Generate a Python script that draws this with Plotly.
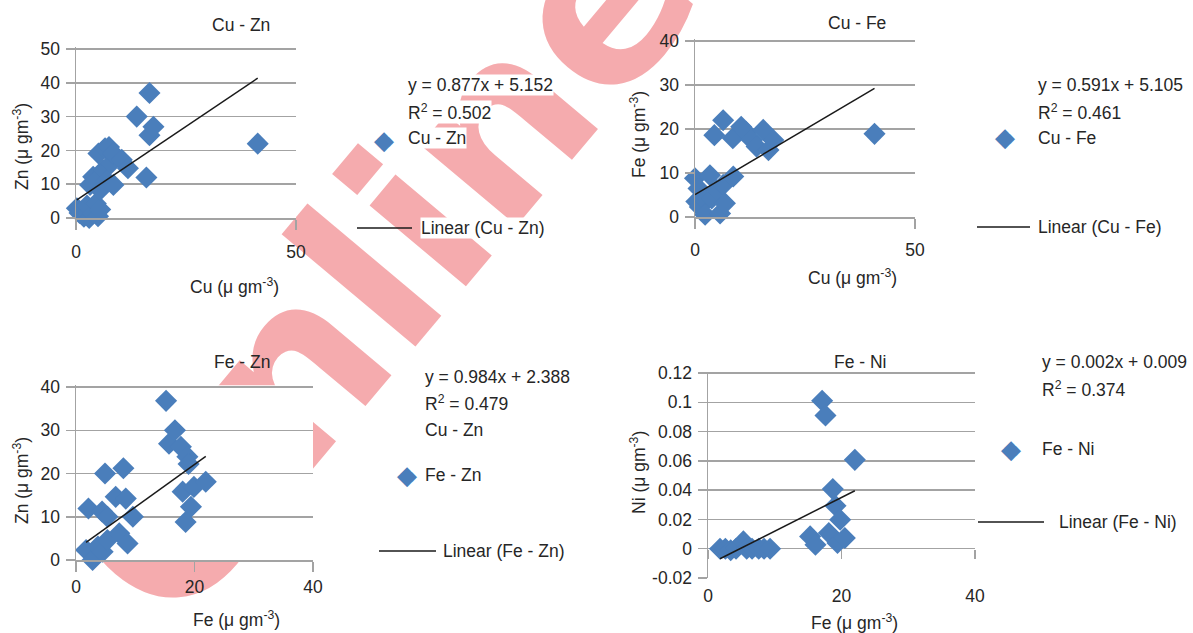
import base64
import plotly.graph_objects as go

# ---------------- data ----------------
# Panel 1: Cu - Zn
cu_a = [0.2, 0.8, 1.8, 2.5, 3.0, 3.9, 4.5, 5.0, 5.5, 3.2, 3.9, 4.5, 5.5, 6.2, 7.0, 8.5,
        5.1, 6.6, 7.5, 8.0, 8.5, 10.4, 11.8, 13.8, 16.0, 16.7, 17.6, 16.7, 41.3]
zn_a = [2.9, 1.5, 0.4, 3.7, 0.0, 1.4, 4.3, 0.5, 2.5, 9.8, 12.2, 11.0, 8.3, 14.2, 11.0, 9.8,
        19.1, 20.6, 21.0, 16.2, 19.1, 17.2, 14.7, 30.0, 12.0, 24.5, 27.0, 37.0, 22.0]
# Panel 2: Cu - Fe
cu_b = [0.0, 0.3, 0.8, 1.1, 1.5, 2.3, 3.4, 3.8, 4.9, 5.7, 6.4, 6.8, 8.7,
        4.4, 6.4, 8.6, 10.5, 11.6, 12.9, 14.0, 15.5, 16.7, 17.8, 40.8]
fe_b = [8.8, 3.5, 6.5, 2.3, 4.6, 0.5, 9.5, 4.2, 6.1, 0.8, 7.3, 3.1, 9.2,
        18.6, 22.0, 17.9, 20.5, 19.3, 17.5, 16.0, 19.8, 15.2, 17.5, 18.9]
# Panel 3: Fe - Zn
fe_c = [1.7, 2.1, 2.8, 3.7, 4.4, 4.5, 4.9, 5.3, 5.3, 6.7, 7.3, 8.0, 8.4, 8.7, 9.6,
        15.2, 15.7, 16.7, 17.7, 18.8, 19.0, 18.0, 19.9, 21.9, 19.4, 18.5]
zn_c = [2.3, 11.9, 0.0, 3.1, 11.2, 1.9, 20.0, 10.0, 4.6, 14.6, 6.2, 21.2, 14.2, 3.8, 10.0,
        36.8, 26.9, 30.0, 26.2, 23.9, 22.2, 15.8, 16.9, 18.1, 12.3, 8.8]
# Panel 4: Fe - Ni
fe_d = [1.8, 2.6, 3.4, 4.2, 5.3, 5.8, 6.6, 7.6, 8.4, 9.3, 15.3, 16.1, 17.1, 17.6, 18.1,
        18.7, 19.1, 19.4, 19.8, 20.5, 22.0]
ni_d = [0.0, 0.0, -0.001, 0.0, 0.005, 0.0, 0.0, 0.0, 0.0, 0.0, 0.0084, 0.0027, 0.101, 0.091,
        0.0107, 0.0407, 0.0293, 0.0039, 0.0198, 0.0073, 0.0607]

series_names = ["Cu - Zn", "Cu - Fe", "Fe - Zn", "Fe - Ni"]
panel_titles = ["Cu - Zn", "Cu - Fe", "Fe - Zn", "Fe - Ni"]
x_titles = ["Cu (\u03bc gm<sup>-3</sup>)", "Cu (\u03bc gm<sup>-3</sup>)",
            "Fe (\u03bc gm<sup>-3</sup>)", "Fe (\u03bc gm<sup>-3</sup>)"]
y_titles = ["Zn (\u03bc gm<sup>-3</sup>)", "Fe (\u03bc gm<sup>-3</sup>)",
            "Zn (\u03bc gm<sup>-3</sup>)", "Ni (\u03bc gm<sup>-3</sup>)"]
equations = ["y = 0.877x + 5.152", "y = 0.591x + 5.105", "y = 0.984x + 2.388", "y = 0.002x + 0.009"]
r_squared = ["0.502", "0.461", "0.479", "0.374"]
extra_label = [None, None, "Cu - Zn", None]
trend_slope = [0.877, 0.591, 0.984, 0.0023]
trend_intercept = [5.152, 5.105, 2.388, -0.011]
x_tickvals = [[0, 50], [0, 50], [0, 20, 40], [0, 20, 40]]
y_tickvals = [[0, 10, 20, 30, 40, 50], [0, 10, 20, 30, 40], [0, 10, 20, 30, 40],
              [-0.02, 0, 0.02, 0.04, 0.06, 0.08, 0.1, 0.12]]
y_ticktext = [None, None, None, ["-0.02", "0", "0.02", "0.04", "0.06", "0.08", "0.1", "0.12"]]
watermark_text = "Online"

xs = [cu_a, cu_b, fe_c, fe_d]
ys = [zn_a, fe_b, zn_c, ni_d]

# ---------------- styling / geometry ----------------
W, H = 1193, 633
GRID = "#a3a3a3"
TXT = "#262626"
BLUE = "#4a7ebb"
PINK = "#f5abae"
FONT = "Liberation Sans, Arial, sans-serif"
FS = 17.5


def fx(p):
    return p / W


def fy(p):
    return 1 - p / H


geom = [
    dict(x0=76, x1=296, xr=[0, 50], v=(0, 50), p=(218, 49), yr=[0, 50.5], xso=7),
    dict(x0=695, x1=915, xr=[0, 50], v=(0, 40), p=(217, 41), yr=[0, 40.4], xso=6),
    dict(x0=76, x1=313, xr=[0, 40], v=(0, 40), p=(560, 387), yr=[0, 40.4], xso=0),
    dict(x0=708, x1=975, xr=[0, 40], v=(-0.02, 0.12), p=(578, 373), yr=[-0.02, 0.1208], xso=5),
]

fig = go.Figure()
layout = dict(
    width=W, height=H, autosize=False,
    margin=dict(l=0, r=0, t=0, b=0, autoexpand=False),
    paper_bgcolor="white", plot_bgcolor="white",
    showlegend=False,
    font=dict(family=FONT, size=FS, color=TXT),
)

tickfont = dict(family=FONT, size=FS, color=TXT)
shapes = []

for i in range(4):
    n = i + 2
    g = geom[i]
    ppu = (g["p"][0] - g["p"][1]) / (g["v"][1] - g["v"][0])
    dom_bot = g["p"][0] + (g["v"][0] - g["yr"][0]) * ppu
    dom_top = g["p"][0] - (g["yr"][1] - g["v"][0]) * ppu
    xa = dict(domain=[fx(g["x0"]), fx(g["x1"])], range=g["xr"], anchor="y%d" % n,
              tickvals=x_tickvals[i], showgrid=False, zeroline=False, automargin=False,
              tickfont=tickfont, ticklabelstandoff=g["xso"], fixedrange=True)
    if i < 3:
        xa.update(showline=True, linecolor=GRID, linewidth=1.5,
                  ticks="outside", ticklen=10, tickwidth=1.5, tickcolor=GRID)
    else:
        xa.update(showline=False, ticks="")
    ya = dict(domain=[fy(dom_bot), fy(dom_top)], range=g["yr"], anchor="x%d" % n,
              tickvals=y_tickvals[i], showgrid=True, gridcolor=GRID, gridwidth=1.5,
              showline=True, linecolor=GRID, linewidth=1.5, automargin=False,
              ticks="outside", ticklen=9, tickwidth=1.5, tickcolor=GRID,
              zeroline=False, tickfont=tickfont, ticklabelstandoff=2, fixedrange=True)
    if y_ticktext[i] is not None:
        ya.update(ticktext=y_ticktext[i], zeroline=True, zerolinecolor=GRID, zerolinewidth=1.5)
    layout["xaxis%d" % n] = xa
    layout["yaxis%d" % n] = ya

    # opaque plot-area panel that hides the watermark behind the chart
    shapes.append(dict(type="rect", xref="paper", yref="paper", layer="below",
                       x0=fx(g["x0"]), x1=fx(g["x1"]), y0=fy(dom_bot), y1=fy(dom_top),
                       fillcolor="white", line=dict(width=0)))

    fig.add_trace(go.Scatter(
        x=xs[i], y=ys[i], mode="markers", name=series_names[i],
        xaxis="x%d" % n, yaxis="y%d" % n, cliponaxis=False,
        marker=dict(symbol="diamond", size=17, color=BLUE, line=dict(width=0))))
    xmin, xmax = min(xs[i]), max(xs[i])
    fig.add_trace(go.Scatter(
        x=[xmin, xmax],
        y=[trend_slope[i] * xmin + trend_intercept[i], trend_slope[i] * xmax + trend_intercept[i]],
        mode="lines", name="Linear (%s)" % series_names[i],
        xaxis="x%d" % n, yaxis="y%d" % n, cliponaxis=False,
        line=dict(color="#1a1a1a", width=1.5)))

# panel 4: x-axis tick marks sit on the zero line
g = geom[3]
layout["xaxis6"] = dict(overlaying="x5", anchor="free", position=fy(549), range=g["xr"],
                        tickvals=x_tickvals[3], showticklabels=False, showgrid=False,
                        zeroline=False, showline=False, ticks="outside", ticklen=9,
                        tickwidth=1.5, tickcolor=GRID, fixedrange=True, automargin=False)
fig.add_trace(go.Scatter(x=[], y=[], xaxis="x6", yaxis="y5", hoverinfo="skip"))

# watermark (drawn below everything)
wm_cx, wm_cy, wm_angle, wm_size = 380, 265, -50, 230
svg = ('<svg xmlns="http://www.w3.org/2000/svg" width="%d" height="%d" viewBox="0 0 %d %d">'
       '<text x="%d" y="%d" font-family="DejaVu Sans" font-weight="bold" font-size="%d" '
       'fill="%s" text-anchor="middle" dominant-baseline="central" '
       'transform="rotate(%d %d %d)">%s</text></svg>'
       % (W, H, W, H, wm_cx, wm_cy, wm_size, PINK, wm_angle, wm_cx, wm_cy, watermark_text))
layout["images"] = [dict(source="data:image/svg+xml;base64," + base64.b64encode(svg.encode()).decode(),
                         xref="paper", yref="paper", x=0, y=1, sizex=1, sizey=1,
                         xanchor="left", yanchor="top", sizing="stretch", layer="below")]

fig.update_layout(**layout)

# ---------------- text ----------------
ann = []


def text(t, x, y, xanchor="left", angle=0, size=FS, color=TXT, family=FONT, bg=None):
    d = dict(text=t, x=fx(x), y=fy(y), xref="paper", yref="paper",
             xanchor=xanchor, yanchor="middle", showarrow=False, textangle=angle,
             font=dict(family=family, size=size, color=color))
    if bg:
        d.update(bgcolor=bg, borderpad=0)
    ann.append(d)


title_pos = [(241, 25), (857, 23), (242, 362), (860, 362)]
xtitle_pos = [(235, 286), (852, 277), (236, 619), (854, 622)]
ytitle_pos = [(21, 147), (638, 135), (21, 481), (638, 473)]
for i in range(4):
    text(panel_titles[i], *title_pos[i], xanchor="center")
    text(x_titles[i], *xtitle_pos[i], xanchor="center")
    text(y_titles[i], *ytitle_pos[i], xanchor="center", angle=-90)

leg = [
    dict(tx=407, eq=85, r2=112, ex=None, mx=384, my=140, sx=138, l0=357, l1=412, ly=228, lt=420),
    dict(tx=1037, eq=85, r2=112, ex=None, mx=1005, my=137, sx=138, l0=977, l1=1030, ly=227, lt=1037),
    dict(tx=424, eq=377, r2=403, ex=430, mx=407, my=475, sx=475, l0=379, l1=436, ly=551, lt=442),
    dict(tx=1041, eq=362, r2=389, ex=None, mx=1011, my=449, sx=449, l0=978, l1=1044, ly=522, lt=1058),
]
for i in range(4):
    L = leg[i]
    text(equations[i], L["tx"], L["eq"], bg="white")
    text("R<sup>2</sup> = " + r_squared[i], L["tx"], L["r2"], bg="white")
    if extra_label[i]:
        text(extra_label[i], L["tx"], L["ex"], bg="white")
    text(series_names[i], L["tx"], L["sx"], bg="white")
    text("\u25c6", L["mx"], L["my"], xanchor="center", size=26, color=BLUE, family="DejaVu Sans")
    text("Linear (%s)" % series_names[i], L["lt"], L["ly"], bg="white")
    shapes.append(dict(type="line", xref="paper", yref="paper",
                       x0=fx(L["l0"]), x1=fx(L["l1"]), y0=fy(L["ly"]), y1=fy(L["ly"]),
                       line=dict(color="#1a1a1a", width=1.5)))

fig.update_layout(annotations=ann, shapes=shapes)
fig.write_html("out.html", config={"displayModeBar": False, "staticPlot": True},
               post_script="document.body.style.margin='0px';document.body.style.overflow='hidden';")
